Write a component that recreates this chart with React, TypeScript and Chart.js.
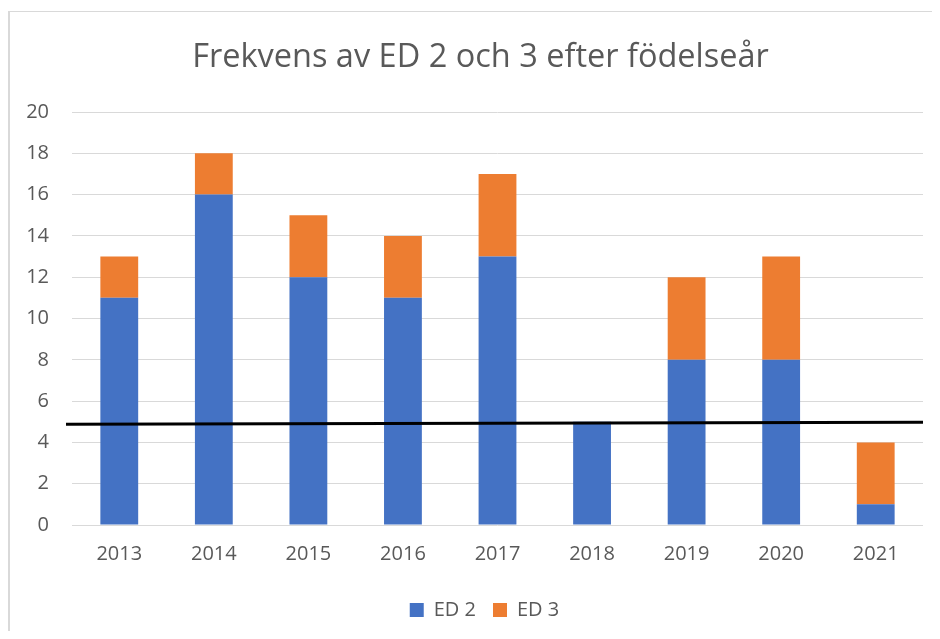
import React, { useEffect, useRef } from "react";
import { Chart, registerables } from "chart.js";

Chart.register(...registerables);

const TITLE = "Frekvens av ED 2 och 3 efter födelseår";
const YEARS = ["2013", "2014", "2015", "2016", "2017", "2018", "2019", "2020", "2021"];
const ED2 = [11, 16, 12, 11, 13, 5, 8, 8, 1];
const ED3 = [2, 2, 3, 3, 4, 0, 4, 5, 3];
const Y_TICKS = [0, 2, 4, 6, 8, 10, 12, 14, 16, 18, 20];
// reference line: value at left end and at right end
const THRESHOLD = [4.88, 4.98];

const FONT = "'Open Sans', 'Noto Sans', sans-serif";
const TEXT = "#595959";

const thresholdPlugin = {
  id: "thresholdLine",
  afterDatasetsDraw(chart: any) {
    const { ctx, chartArea, scales } = chart;
    const y0 = scales.y.getPixelForValue(THRESHOLD[0]);
    const y1 = scales.y.getPixelForValue(THRESHOLD[1]);
    ctx.save();
    ctx.strokeStyle = "#000000";
    ctx.lineWidth = 3;
    ctx.beginPath();
    ctx.moveTo(chartArea.left - 6, y0);
    ctx.lineTo(chartArea.right, y1);
    ctx.stroke();
    ctx.restore();
  },
};

// centre title and legend like the original (slightly right of canvas centre)
const centerShiftPlugin = {
  id: "centerShift",
  afterLayout(chart: any) {
    const t = chart.titleBlock;
    if (t) {
      t.left += 15;
      t.right += 15;
    }
    const l = chart.legend;
    if (l) {
      l.left += 19;
      l.right += 19;
    }
  },
};

export default function App() {
  const ref = useRef<HTMLCanvasElement | null>(null);
  useEffect(() => {
    if (!ref.current) return;
    const chart = new Chart(ref.current, {
      type: "bar",
      data: {
        labels: YEARS,
        datasets: [
          { label: "ED 2", data: ED2, backgroundColor: "#4472C4" },
          { label: "ED 3", data: ED3, backgroundColor: "#ED7D31" },
        ],
      },
      options: {
        animation: false,
        responsive: false,
        maintainAspectRatio: false,
        layout: { padding: { left: 0, right: 17, top: 0, bottom: 1 } },
        datasets: { bar: { categoryPercentage: 1, barPercentage: 0.4 } } as any,
        scales: {
          x: {
            stacked: true,
            grid: { display: false, drawTicks: false },
            border: { display: false },
            ticks: { color: TEXT, font: { family: FONT, size: 20 }, padding: 17 },
          },
          y: {
            stacked: true,
            min: 0,
            max: 20,
            afterBuildTicks: (s: any) => {
              s.ticks = Y_TICKS.map((v) => ({ value: v }));
            },
            afterFit: (s: any) => {
              s.width = 64;
            },
            grid: { color: "#d9d9d9", lineWidth: 1, drawTicks: false },
            border: { display: false },
            ticks: { color: TEXT, font: { family: FONT, size: 20 }, padding: 23 },
          },
        },
        plugins: {
          title: {
            display: true,
            text: TITLE,
            color: TEXT,
            font: { family: FONT, size: 32.5, weight: "normal" },
            padding: { top: 30, bottom: 35 },
          },
          legend: {
            position: "bottom",
            labels: {
              color: TEXT,
              font: { family: FONT, size: 20 },
              boxWidth: 14,
              boxHeight: 14,
              padding: 17,
            },
          },
          tooltip: { enabled: false },
        },
      },
      plugins: [thresholdPlugin, centerShiftPlugin],
    });
    return () => chart.destroy();
  }, []);

  return (
    <div style={{ position: "relative", width: 932, height: 623, overflow: "hidden", background: "#fff" }}>
      <div
        style={{
          position: "absolute",
          left: 0,
          top: 3,
          width: 960,
          height: 700,
          borderLeft: "2px solid #d9d9d9",
          borderTop: "1px solid #d9d9d9",
          boxSizing: "border-box",
        }}
      />
      <canvas ref={ref} width={932} height={623} style={{ position: "absolute", left: 0, top: 0 }} />
    </div>
  );
}
